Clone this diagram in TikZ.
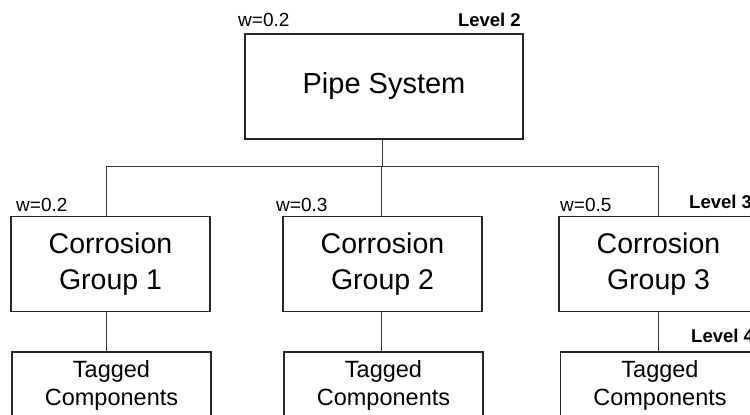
\documentclass[tikz,border=0pt]{standalone}
\usepackage{fontspec}
\setmainfont{Liberation Sans}
\usetikzlibrary{calc}
\begin{document}
\begin{tikzpicture}[x=1pt,y=-1pt,
  box/.style={draw=black!85, line width=1.3pt, rectangle, inner sep=0pt, outer sep=0pt,
    minimum width=199pt, minimum height=95pt},
  link/.style={draw=black!80, line width=0.8pt},
  wlabel/.style={anchor=base west, inner sep=0pt, font=\fontsize{19}{19}\selectfont},
  lvl/.style={anchor=base west, inner sep=0pt, font=\fontsize{18.5}{18.5}\selectfont\bfseries},
  big/.style={font=\fontsize{29}{29}\selectfont},
  mid/.style={align=center, font=\fontsize{28.5}{36}\selectfont},
  small/.style={align=center, inner sep=0pt, font=\fontsize{23.5}{28.5}\selectfont}]
\useasboundingbox (0,0) rectangle (750,415);
\clip (0,0) rectangle (750,415);
\fill[white] (0,0) rectangle (750,415);

% top level
\node[box, minimum width=278pt, minimum height=105pt, big] (pipe) at (384,86.5) {\raisebox{-2pt}{Pipe System}};
\node[wlabel] (w0) at (238,27) {w=0.2};
\node[lvl, anchor=base east] (l2) at (521,27) {Level 2};

% corrosion groups
\node[box, mid] (g1) at (110.5,264) {Corrosion\\Group 1};
\node[box, mid] (g2) at (382.5,264) {Corrosion\\Group 2};
\node[box, mid] (g3) at (658.5,264) {Corrosion\\Group 3};
\node[wlabel] (w1) at (16,211) {w=0.2};
\node[wlabel] (w2) at (276,211) {w=0.3};
\node[wlabel] (w3) at (560,211) {w=0.5};
\node[lvl] (l3) at (689,208) {Level 3};

% tagged components
\node[box] (t1) at (111.5,399.5) {};
\node[box] (t2) at (383.5,399.5) {};
\node[box] (t3) at (660,399.5) {};
\node[small, anchor=north] (tt1) at (t1.north |- 0,360) {Tagged\\Components};
\node[small, anchor=north] (tt2) at (t2.north |- 0,360) {Tagged\\Components};
\node[small, anchor=north] (tt3) at (t3.north |- 0,360) {Tagged\\Components};
\node[lvl] (l4) at (691,342) {Level 4};

% connectors: the drop points sit a little left of the box centres
\coordinate (bus) at (0,166);
\coordinate (p0) at ($(pipe.south)+(-2,0)$);
\coordinate (d1) at ($(g1.north)+(-4,0)$);
\coordinate (d2) at ($(g2.north)+(-1.5,0)$);
\coordinate (d3) at ($(g3.north)+(-0.5,0)$);
\draw[link] (p0) -- (p0 |- bus);
\draw[link] (d1) -- (d1 |- bus) -- (d3 |- bus) -- (d3);
\draw[link] (d2) -- (d2 |- bus);
\draw[link] (d1 |- g1.south) -- (d1 |- t1.north);
\draw[link] (d2 |- g2.south) -- (d2 |- t2.north);
\draw[link] (d3 |- g3.south) -- (d3 |- t3.north);
\end{tikzpicture}
\end{document}
